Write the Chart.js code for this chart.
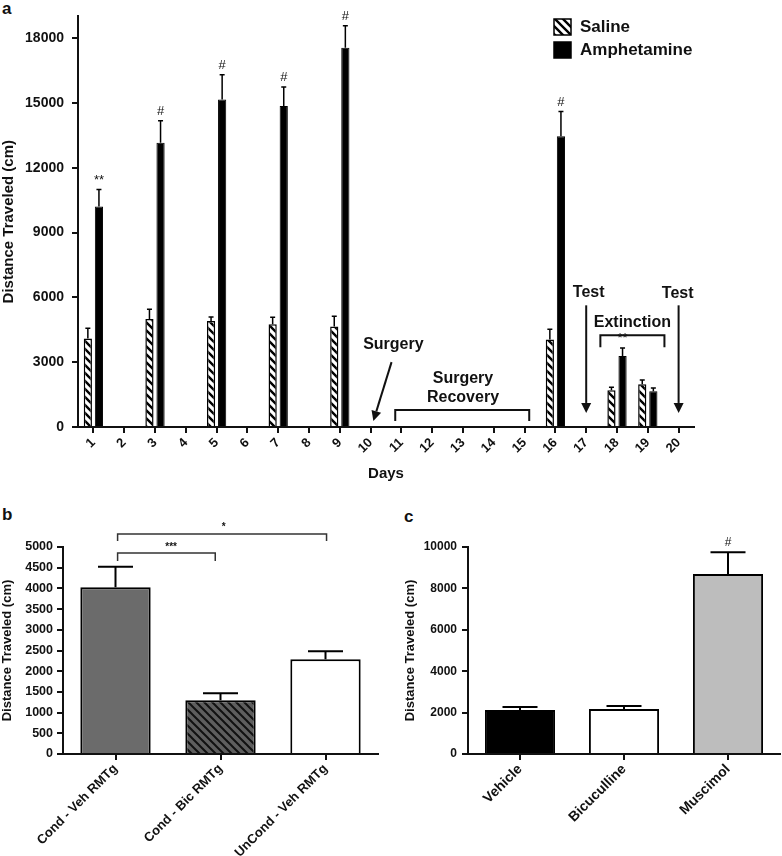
<!DOCTYPE html>
<html>
<head>
<meta charset="utf-8">
<script src="https://cdn.jsdelivr.net/npm/chart.js@4.4.1/dist/chart.umd.min.js"></script>
<style>
body { margin: 0; background: #fff; width: 782px; height: 856px; position: relative; overflow: hidden; font-family: Arial, "Liberation Sans", sans-serif; }
.box { position: absolute; }
.tag { position: absolute; font-weight: bold; font-size: 17px; color: #111; line-height: 1; }
</style>
</head>
<body>
<div class="tag" style="left:2px;top:0px">a</div>
<div class="tag" style="left:2px;top:506px">b</div>
<div class="tag" style="left:404px;top:508px">c</div>
<div class="box" style="left:0;top:0"><canvas id="chartA" width="782" height="490"></canvas></div>
<div class="box" style="left:0;top:490px"><canvas id="chartB" width="390" height="366"></canvas></div>
<div class="box" style="left:390px;top:490px"><canvas id="chartC" width="392" height="366"></canvas></div>
<script>
// panel a - days
const days = ['1','2','3','4','5','6','7','8','9','10','11','12','13','14','15','16','17','18','19','20'];
const salineMean = [4100, null, 5000, null, 4900, null, 4750, null, 4650, null, null, null, null, null, null, 4050, null, 1700, 1980, null];
const salineErr  = [470, null, 450, null, 190, null, 330, null, 470, null, null, null, null, null, null, 470, null, 140, 190, null];
const amphMean   = [10200, null, 13150, null, 15150, null, 14850, null, 17550, null, null, null, null, null, null, 13450, null, 3280, 1660, null];
const amphErr    = [790, null, 1020, null, 1150, null, 880, null, 1020, null, null, null, null, null, null, 1150, null, 370, 140, null];
const amphSig    = ['**', null, '#', null, '#', null, '#', null, '#', null, null, null, null, null, null, '#', null, '**', null, null];
const yTicksA = [0, 3000, 6000, 9000, 12000, 15000, 18000];

// panel b
const groupsB = ['Cond - Veh RMTg', 'Cond - Bic RMTg', 'UnCond - Veh RMTg'];
const meansB = [4030, 1300, 2290];
const errB = [490, 170, 190];

// panel c
const groupsC = ['Vehicle', 'Bicuculline', 'Muscimol'];
const meansC = [2120, 2170, 8690];
const errC = [150, 150, 1060];
const sigC = [null, null, '#'];

const FONT = 'Arial, "Liberation Sans", sans-serif';
const INK = '#111';
Chart.defaults.font.family = FONT;
Chart.defaults.color = INK;
Chart.defaults.animation = false;

function makeHatch(bg, line, size, width) {
    const c = document.createElement('canvas');
    c.width = size; c.height = size;
    const g = c.getContext('2d');
    g.fillStyle = bg;
    g.fillRect(0, 0, size, size);
    g.strokeStyle = line;
    g.lineWidth = width;
    g.beginPath();
    for (let k = -1; k <= 1; k++) {
        g.moveTo(-1, k * size - 1);
        g.lineTo(size + 1, size + k * size + 1);
    }
    g.stroke();
    return g.createPattern(c, 'repeat');
}

const hatchA = makeHatch('#fff', '#000', 8, 2.4);
const hatchB = makeHatch('#5e5e5e', '#111', 8, 2);

// error bars + significance marks, read from the dataset
const errorBars = {
    id: 'errorBars',
    afterDatasetsDraw(chart) {
        const ctx = chart.ctx;
        const y = chart.scales.y;
        chart.data.datasets.forEach((ds, i) => {
            if (!ds.errors) return;
            const meta = chart.getDatasetMeta(i);
            meta.data.forEach((bar, j) => {
                const v = ds.data[j], e = ds.errors[j];
                if (v == null || e == null) return;
                const top = y.getPixelForValue(v);
                const end = y.getPixelForValue(v + e);
                const half = ds.capHalf != null ? ds.capHalf : bar.width / 4;
                ctx.save();
                ctx.strokeStyle = '#000';
                ctx.lineWidth = ds.errLine || 1.5;
                ctx.beginPath();
                ctx.moveTo(bar.x, top);
                ctx.lineTo(bar.x, end);
                ctx.moveTo(bar.x - half, end);
                ctx.lineTo(bar.x + half, end);
                ctx.stroke();
                if (ds.marks && ds.marks[j]) {
                    ctx.fillStyle = INK;
                    ctx.font = (ds.markFont || '11px') + ' ' + FONT;
                    ctx.textAlign = 'center';
                    ctx.textBaseline = 'bottom';
                    ctx.fillText(ds.marks[j], bar.x, end - 3);
                }
                ctx.restore();
            });
        });
    }
};

function arrow(ctx, x1, y1, x2, y2) {
    const ang = Math.atan2(y2 - y1, x2 - x1);
    const len = 10, w = 5;
    const bx = x2 - len * Math.cos(ang), by = y2 - len * Math.sin(ang);
    ctx.beginPath();
    ctx.moveTo(x1, y1);
    ctx.lineTo(bx, by);
    ctx.stroke();
    ctx.beginPath();
    ctx.moveTo(x2, y2);
    ctx.lineTo(bx + w * Math.sin(ang), by - w * Math.cos(ang));
    ctx.lineTo(bx - w * Math.sin(ang), by + w * Math.cos(ang));
    ctx.closePath();
    ctx.fill();
}

function bracket(ctx, x1, x2, y, tip) {
    ctx.beginPath();
    ctx.moveTo(x1, y + tip);
    ctx.lineTo(x1, y);
    ctx.lineTo(x2, y);
    ctx.lineTo(x2, y + tip);
    ctx.stroke();
}

// notes on panel a: surgery, recovery, tests, extinction, legend
const notesA = {
    id: 'notesA',
    afterDraw(chart) {
        const ctx = chart.ctx;
        const xs = chart.scales.x, ys = chart.scales.y;
        const X = v => xs.getPixelForValue(v);
        const Y = v => ys.getPixelForValue(v);
        ctx.save();
        ctx.fillStyle = INK;
        ctx.strokeStyle = INK;
        ctx.lineWidth = 2;
        ctx.font = 'bold 16px ' + FONT;
        ctx.textAlign = 'center';
        ctx.textBaseline = 'middle';

        ctx.fillText('Surgery', X(9.74), Y(3830));
        arrow(ctx, X(9.68), Y(3000), X(9.09), Y(280));

        ctx.fillText('Surgery', X(12.0), Y(2260));
        ctx.fillText('Recovery', X(12.0), Y(1340));
        bracket(ctx, X(9.8), X(14.15), Y(790), 11);

        ctx.fillText('Test', X(16.08), Y(6230));
        arrow(ctx, X(16.0), Y(5630), X(16.0), Y(650));
        ctx.fillText('Test', X(18.97), Y(6190));
        arrow(ctx, X(19.0), Y(5630), X(19.0), Y(650));

        ctx.fillText('Extinction', X(17.5), Y(4850));
        bracket(ctx, X(16.46), X(18.54), Y(4250), 12);

        // legend
        const lx = 554, items = [['Saline', hatchA, 19], ['Amphetamine', '#000', 42]];
        ctx.textAlign = 'left';
        ctx.font = 'bold 17px ' + FONT;
        ctx.lineWidth = 1.5;
        items.forEach(([name, fill, top]) => {
            ctx.fillStyle = fill;
            ctx.fillRect(lx, top, 17, 16);
            ctx.strokeStyle = '#000';
            ctx.strokeRect(lx, top, 17, 16);
            ctx.fillStyle = INK;
            ctx.fillText(name, 580, top + 8);
        });
        ctx.restore();
    }
};

function axisStyle(extra) {
    return Object.assign({
        grid: { offset: false, drawOnChartArea: false, drawTicks: true, tickLength: 6, color: INK, lineWidth: 2 },
        border: { color: INK, width: 2 }
    }, extra);
}

const plain = v => String(v);

new Chart(document.getElementById('chartA'), {
    type: 'bar',
    data: {
        labels: days,
        datasets: [{
            label: 'Saline',
            data: salineMean,
            errors: salineErr,
            backgroundColor: hatchA,
            borderColor: '#000',
            borderWidth: 1.5,
            categoryPercentage: 0.72,
            barPercentage: 0.74,
            capHalf: 2.5
        }, {
            label: 'Amphetamine',
            data: amphMean,
            errors: amphErr,
            marks: amphSig,
            markFont: '13px',
            backgroundColor: '#000',
            borderColor: '#000',
            borderWidth: 1,
            categoryPercentage: 0.72,
            barPercentage: 0.74,
            capHalf: 2.5
        }]
    },
    options: {
        responsive: false,
        devicePixelRatio: 1,
        layout: { padding: { top: 15, right: 88, left: 0, bottom: 0 } },
        plugins: { legend: { display: false }, tooltip: { enabled: false } },
        scales: {
            x: axisStyle({
                ticks: { minRotation: 45, maxRotation: 45, autoSkip: false, padding: 2, font: { size: 13, weight: 'bold' }, color: INK },
                title: { display: true, text: 'Days', font: { size: 15, weight: 'bold' }, color: INK, padding: { top: 0, bottom: 7 } },
                afterFit(s) { s.height = 63; }
            }),
            y: axisStyle({
                min: 0, max: 19000,
                afterBuildTicks(s) { s.ticks = yTicksA.map(v => ({ value: v })); },
                ticks: { padding: 8, font: { size: 14, weight: 'bold' }, color: INK, callback: plain },
                title: { display: true, text: 'Distance Traveled (cm)', font: { size: 15, weight: 'bold' }, color: INK, padding: { top: 0, bottom: 0 } },
                afterFit(s) { s.width = 78; }
            })
        }
    },
    plugins: [errorBars, notesA]
});

// brackets on panel b
const notesB = {
    id: 'notesB',
    afterDraw(chart) {
        const ctx = chart.ctx;
        const X = v => chart.scales.x.getPixelForValue(v);
        const Y = v => chart.scales.y.getPixelForValue(v);
        ctx.save();
        ctx.strokeStyle = '#333';
        ctx.fillStyle = INK;
        ctx.lineWidth = 1.5;
        bracket(ctx, X(0.02), X(0.95), Y(4855), 8);
        bracket(ctx, X(0.02), X(2.01), Y(5315), 7);
        ctx.font = 'bold 10px ' + FONT;
        ctx.textAlign = 'center';
        ctx.textBaseline = 'middle';
        ctx.fillText('***', X(0.53), Y(4990));
        ctx.fillText('*', X(1.03), Y(5470));
        ctx.restore();
    }
};

new Chart(document.getElementById('chartB'), {
    type: 'bar',
    data: {
        labels: groupsB,
        datasets: [{
            data: meansB,
            errors: errB,
            backgroundColor: ['#6b6b6b', hatchB, '#fff'],
            borderColor: '#000',
            borderWidth: 2,
            categoryPercentage: 1,
            barPercentage: 0.67,
            errLine: 2,
            capHalf: 17.5
        }]
    },
    options: {
        responsive: false,
        devicePixelRatio: 1,
        layout: { padding: { top: 57, right: 12, left: 0, bottom: 0 } },
        plugins: { legend: { display: false }, tooltip: { enabled: false } },
        scales: {
            x: axisStyle({
                ticks: { minRotation: 45, maxRotation: 45, autoSkip: false, padding: 1, font: { size: 13, weight: 'bold' }, color: INK },
                afterFit(s) { s.height = 102; }
            }),
            y: axisStyle({
                min: 0, max: 5000,
                ticks: { stepSize: 500, padding: 4, font: { size: 12.5, weight: 'bold' }, color: INK, callback: plain },
                title: { display: true, text: 'Distance Traveled (cm)', font: { size: 13, weight: 'bold' }, color: INK, padding: { top: 0, bottom: 0 } },
                afterFit(s) { s.width = 63; }
            })
        }
    },
    plugins: [errorBars, notesB]
});

new Chart(document.getElementById('chartC'), {
    type: 'bar',
    data: {
        labels: groupsC,
        datasets: [{
            data: meansC,
            errors: errC,
            marks: sigC,
            markFont: '12px',
            backgroundColor: ['#000', '#fff', '#bdbdbd'],
            borderColor: '#000',
            borderWidth: 2,
            categoryPercentage: 1,
            barPercentage: 0.675,
            errLine: 2,
            capHalf: 17.5
        }]
    },
    options: {
        responsive: false,
        devicePixelRatio: 1,
        layout: { padding: { top: 57, right: 2, left: 0, bottom: 0 } },
        plugins: { legend: { display: false }, tooltip: { enabled: false } },
        scales: {
            x: axisStyle({
                ticks: { minRotation: 45, maxRotation: 45, autoSkip: false, padding: 1, font: { size: 14, weight: 'bold' }, color: INK },
                afterFit(s) { s.height = 102; }
            }),
            y: axisStyle({
                min: 0, max: 10000,
                ticks: { stepSize: 2000, padding: 5, font: { size: 12, weight: 'bold' }, color: INK, callback: plain },
                title: { display: true, text: 'Distance Traveled (cm)', font: { size: 13, weight: 'bold' }, color: INK, padding: { top: 13, bottom: 0 } },
                afterFit(s) { s.width = 78; }
            })
        }
    },
    plugins: [errorBars]
});
</script>
</body>
</html>
